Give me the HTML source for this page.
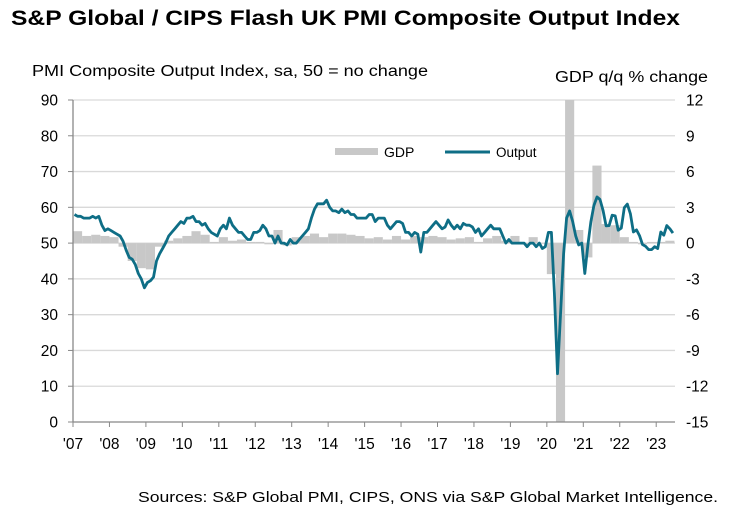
<!DOCTYPE html>
<html><head><meta charset="utf-8"><style>
body{margin:0;background:#fff;width:732px;height:518px;overflow:hidden;font-family:"Liberation Sans",Arial,sans-serif}
svg text{font-family:"Liberation Sans",Arial,sans-serif}
</style></head><body>
<svg id="c" width="732" height="518">
<text x="11" y="25" font-size="21" font-weight="bold" fill="#000" textLength="669" lengthAdjust="spacingAndGlyphs">S&amp;P Global / CIPS Flash UK PMI Composite Output Index</text>
<text x="32" y="76" font-size="15.5" fill="#000" textLength="396" lengthAdjust="spacingAndGlyphs">PMI Composite Output Index, sa, 50 = no change</text>
<text x="708" y="82" font-size="15.5" fill="#000" text-anchor="end" textLength="153" lengthAdjust="spacingAndGlyphs">GDP q/q % change</text>
<text x="718" y="502" font-size="15" fill="#000" text-anchor="end" textLength="580" lengthAdjust="spacingAndGlyphs">Sources: S&amp;P Global PMI, CIPS, ONS via S&amp;P Global Market Intelligence.</text>
<g id="grid"></g><g id="bars"></g><g id="line"></g><g id="axes"></g>
<g>
<rect x="335" y="148" width="43" height="7" fill="#c8c8c8"/>
<text x="384" y="157" font-size="14">GDP</text>
<line x1="445" y1="152" x2="490" y2="152" stroke="#0e6e86" stroke-width="3"/>
<text x="496" y="157" font-size="13.5">Output</text>
</g>
</svg>
<script>
const years=["'07","'08","'09","'10","'11","'12","'13","'14","'15","'16","'17","'18","'19","'20","'21","'22","'23"];
const leftTicks=[0,10,20,30,40,50,60,70,80,90];
const rightTicks=[-15,-12,-9,-6,-3,0,3,6,9,12];
const pmi=[58,57.5,57.5,57,57,57,57.5,57,57.5,55,53.5,54,
53.5,53,52.5,52,50.5,48,46,45.5,44,41.5,40,37.5,
39,39.5,40.5,45,47,48.5,50,52,53,54,55,56,
55.5,57,57,57.5,56,56,55,55.5,54,53,52.5,52,
54,55,54,57,55,54,53,53,52,51,51,53,
53,53.5,55,54,52,52,50,52,50,50,49.5,51,
50,50,51,52,53,54,57,59.5,61,61,61,62,
60,59,59,58.5,59.5,58.5,59,58,58,57,57,57,
57,58,58,56,57,57,57,55,54,55,56,56,
55.5,53,53,52,53,52.5,47.5,53,53,54,55,56,
55,54,54.5,56.5,55,54,55,54,55.5,55,55,54.5,
53,54,52,53,54,55,54,54,54,52,50,51,
50,50,50,50,50,49,50,50,49,50,48.5,49,
53,53,36,13.5,30,47,57,59,56,52,49.5,50,
41.5,49.5,56,60.5,62.9,62.2,59.2,54.8,54.9,57.8,57.6,53.6,
54.2,59.9,60.9,58.2,53.1,53.7,52.1,49.6,49.1,48.2,48.2,49,
48.5,53.1,52.2,54.9,54,52.8];
const gdp=[1.0,0.6,0.7,0.6, 0.5,-0.3,-1.5,-2.1, -2.2,-0.3,0.2,0.4, 0.6,1.0,0.7,0.1,
0.5,0.2,0.3,0.1, 0.1,-0.1,1.1,-0.2, 0.5,0.6,0.8,0.5, 0.8,0.8,0.7,0.6,
0.4,0.5,0.3,0.6, 0.3,0.6,0.5,0.6, 0.5,0.3,0.4,0.5, 0.1,0.4,0.6,0.2,
0.6,-0.1,0.5,0.0, -2.6,-21,16.5,1.1, -1.2,6.5,1.6,1.5, 0.5,0.1,-0.1,0.1, 0.1,0.2];
const X0=73,YW=36.45,XR=675,YT=100,YB=422;
const xm=m=>X0+m*YW/12;
const yl=v=>YB-(v/90)*(YB-YT);
const yr=v=>YB-((v+15)/27)*(YB-YT);
const NS="http://www.w3.org/2000/svg";
function mk(t,a,p){const e=document.createElementNS(NS,t);for(const k in a)e.setAttribute(k,a[k]);p.appendChild(e);return e;}
const G=document.getElementById('grid'),B=document.getElementById('bars'),L=document.getElementById('line'),A=document.getElementById('axes');
leftTicks.forEach((v,i)=>{
 if(v>0){const g=mk('line',{x1:X0,x2:XR,y1:yl(v),y2:yl(v),stroke:'#d9d9d9','stroke-width':1.3},G);
 }
 mk('line',{x1:X0-5,x2:X0,y1:yl(v),y2:yl(v),stroke:'#888'},A);
 const t=mk('text',{x:X0-15,y:yl(v)+5.5,'font-size':15.5,'text-anchor':'end'},A);t.textContent=v;
 
});
rightTicks.forEach(v=>{
 const t=mk('text',{x:686,y:yr(v)+5.5,'font-size':15.5},A);t.textContent=v;
 
});
gdp.forEach((v,i)=>{
 const c=Math.max(-15,Math.min(12,v));
 const y1=yr(Math.max(c,0)),y2=yr(Math.min(c,0));
 const r=mk('rect',{x:xm(i*3),y:y1,width:YW/4,height:Math.max(y2-y1,0.5),fill:'#c8c8c8'},B);
 
});
let d='';pmi.forEach((v,i)=>{d+=(i?'L':'M')+xm(i+0.5).toFixed(1)+','+yl(v).toFixed(1);});
const p=mk('path',{d:d,fill:'none',stroke:'#0e6e86','stroke-width':2.8,'stroke-linejoin':'round'},L);

mk('line',{x1:X0,x2:X0,y1:YT,y2:YB,stroke:'#888','stroke-width':1.3},A);
mk('line',{x1:X0,x2:XR,y1:YB,y2:YB,stroke:'#888','stroke-width':1.3},A);
years.forEach((y,i)=>{
 mk('line',{x1:xm(i*12),x2:xm(i*12),y1:YB,y2:YB+5,stroke:'#888'},A);
 const t=mk('text',{x:xm(i*12),y:YB+27,'font-size':15.5,'text-anchor':'middle'},A);t.textContent=y;
 
});
</script>
</body></html>
